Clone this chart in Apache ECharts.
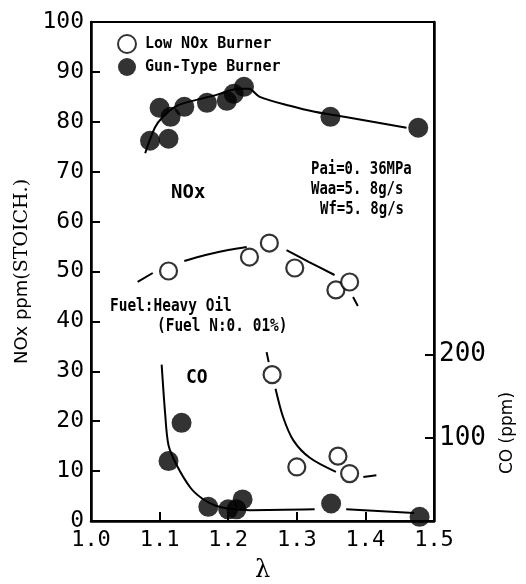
<!DOCTYPE html>
<html>
<head>
<meta charset="utf-8">
<script src="https://cdn.jsdelivr.net/npm/echarts@6/dist/echarts.min.js"></script>
<style>
  html, body { margin: 0; padding: 0; background: #fff; }
  #chart { width: 526px; height: 584px; }
</style>
</head>
<body>
<div id="chart"></div>
<script>
// measured points, [lambda, value]
const lowNoxNOx = [[1.113, 50.1], [1.231, 52.9], [1.260, 55.7], [1.297, 50.7], [1.357, 46.3], [1.377, 47.9]];
const gunNOx = [[1.086, 76.2], [1.113, 76.6], [1.100, 82.8], [1.116, 81.0], [1.136, 83.0], [1.169, 83.8],
  [1.198, 84.2], [1.208, 85.6], [1.223, 87.0], [1.349, 81.0], [1.477, 78.8]];
const lowNoxCO = [[1.264, 176], [1.300, 65], [1.360, 78], [1.377, 57]];
const gunCO = [[1.113, 72], [1.132, 118], [1.171, 17], [1.200, 14], [1.212, 14], [1.221, 26], [1.350, 21], [1.479, 5]];

// hand drawn fit curves (null = break in the line)
const gunNOxCurve = [[1.079, 73.7], [1.093, 78.8], [1.105, 81.0], [1.125, 83.2], [1.154, 84.4], [1.183, 85.4],
  [1.215, 86.6], [1.230, 86.6], [1.246, 85.0], [1.290, 83.2], [1.326, 82.0], [1.369, 81.0], [1.460, 78.8]];
const lowNOxCurve = [[1.068, 47.9], [1.090, 49.7], null, [1.136, 52.1], [1.167, 53.3], [1.200, 54.3], [1.227, 54.9],
  null, [1.285, 54.3], [1.318, 51.9], [1.355, 49.3], null, [1.382, 44.9], [1.389, 43.1]];
const lowCOCurve = [[1.256, 203], [1.259, 191], null, [1.269, 159], [1.280, 125], [1.295, 97], [1.319, 76],
  [1.357, 59], null, [1.397, 53], [1.416, 55]];
const gunCOCurve = [[1.103, 188], [1.108, 130], [1.113, 91], [1.125, 67], [1.145, 40], [1.162, 27], [1.180, 19],
  [1.200, 15], [1.232, 13], [1.326, 14], null, [1.372, 14], [1.471, 9.5]];

const coTicks = [100, 200];
const seriesNames = ['Low NOx Burner', 'Gun-Type Burner'];

const MONO = '"DejaVu Sans Mono", monospace';
const gap = arr => arr.map(p => p === null ? '-' : p);

const curve = (data, yAxisIndex) => ({
  type: 'line', data: gap(data), yAxisIndex, smooth: 0.3, symbol: 'none', silent: true,
  lineStyle: { color: '#000', width: 2 }, z: 1
});
const openDots = (data, yAxisIndex) => ({
  name: seriesNames[0], type: 'scatter', data, yAxisIndex, symbol: 'circle', symbolSize: 17,
  itemStyle: { color: '#fff', borderColor: '#000', borderWidth: 2.2 }, z: 3
});
const fullDots = (data, yAxisIndex) => ({
  name: seriesNames[1], type: 'scatter', data, yAxisIndex, symbol: 'circle', symbolSize: 20,
  itemStyle: { color: '#000' }, z: 3
});

// narrow tall typewriter look: bigger font squeezed horizontally
const label = (text, x, y, size, sx) => ({
  type: 'text', x, y, scaleX: sx,
  style: { text, x: 0, y: 0, font: `bold ${size}px ${MONO}`, fill: '#000', verticalAlign: 'middle' }
});

const chart = echarts.init(document.getElementById('chart'));
chart.setOption({
  animation: false,
  grid: {
    left: 91, right: 92, top: 22, bottom: 63, outerBoundsMode: 'none', containLabel: false,
    show: true, borderColor: '#000', borderWidth: 2
  },
  legend: {
    data: seriesNames, orient: 'vertical', left: 117, top: 34, padding: 0,
    itemWidth: 18, itemHeight: 18, itemGap: 4,
    textStyle: { fontFamily: MONO, fontWeight: 'bold', fontSize: 15, color: '#000', padding: [0, 0, 0, 4] }
  },
  xAxis: {
    type: 'value', min: 1.0, max: 1.5, interval: 0.1,
    name: 'λ', nameLocation: 'middle', nameGap: 38,
    nameTextStyle: { fontFamily: 'DejaVu Serif', fontSize: 24, color: '#000' },
    axisLine: { lineStyle: { color: '#000', width: 2.5 } },
    axisTick: { inside: true, length: 9, lineStyle: { color: '#000', width: 2 } },
    axisLabel: { fontFamily: MONO, fontSize: 22, color: '#000', margin: 8, formatter: v => v.toFixed(1) },
    splitLine: { show: false }
  },
  yAxis: [{
    type: 'value', min: 0, max: 100, interval: 10,
    name: '{a|NOx ppm}{b|(STOICH.)}', nameLocation: 'middle', nameGap: 58,
    nameTextStyle: { rich: {
      a: { fontFamily: 'DejaVu Sans', fontSize: 18, color: '#000' },
      b: { fontFamily: 'DejaVu Serif', fontSize: 19, color: '#000' }
    } },
    axisLine: { lineStyle: { color: '#000', width: 2.5 } },
    axisTick: { inside: true, length: 9, lineStyle: { color: '#000', width: 2 } },
    axisLabel: { fontFamily: MONO, fontSize: 23, color: '#000', margin: 7 },
    splitLine: { show: false }
  }, {
    type: 'value', position: 'right', min: 0, max: 600, interval: 100,
    axisLine: { show: true, lineStyle: { color: '#000', width: 2.5 } },
    axisTick: { inside: true, length: 9, customValues: coTicks, lineStyle: { color: '#000', width: 2 } },
    axisLabel: { fontFamily: MONO, fontSize: 26, color: '#000', margin: 5, customValues: coTicks },
    splitLine: { show: false }
  }],
  graphic: [
    label('NOx', 171, 193, 20, 0.95),
    label('CO', 186, 378, 20, 0.9),
    label('Pai=0. 36MPa', 311, 170, 17, 0.82),
    label('Waa=5. 8g/s', 311, 190, 17, 0.82),
    label('Wf=5. 8g/s', 320, 210, 17, 0.82),
    label('Fuel:Heavy Oil', 110, 307, 17, 0.85),
    label('(Fuel N:0. 01%)', 157, 327, 17, 0.85),
    {
      type: 'text', x: 508, y: 433, rotation: Math.PI / 2,
      style: { text: 'CO (ppm)', x: 0, y: 0, font: '17px "DejaVu Sans"', fill: '#000', align: 'center', verticalAlign: 'middle' }
    }
  ],
  series: [
    curve(gunNOxCurve, 0),
    curve(lowNOxCurve, 0),
    curve(gunCOCurve, 1),
    curve(lowCOCurve, 1),
    openDots(lowNoxNOx, 0),
    openDots(lowNoxCO, 1),
    fullDots(gunNOx, 0),
    fullDots(gunCO, 1)
  ]
});
</script>
</body>
</html>
